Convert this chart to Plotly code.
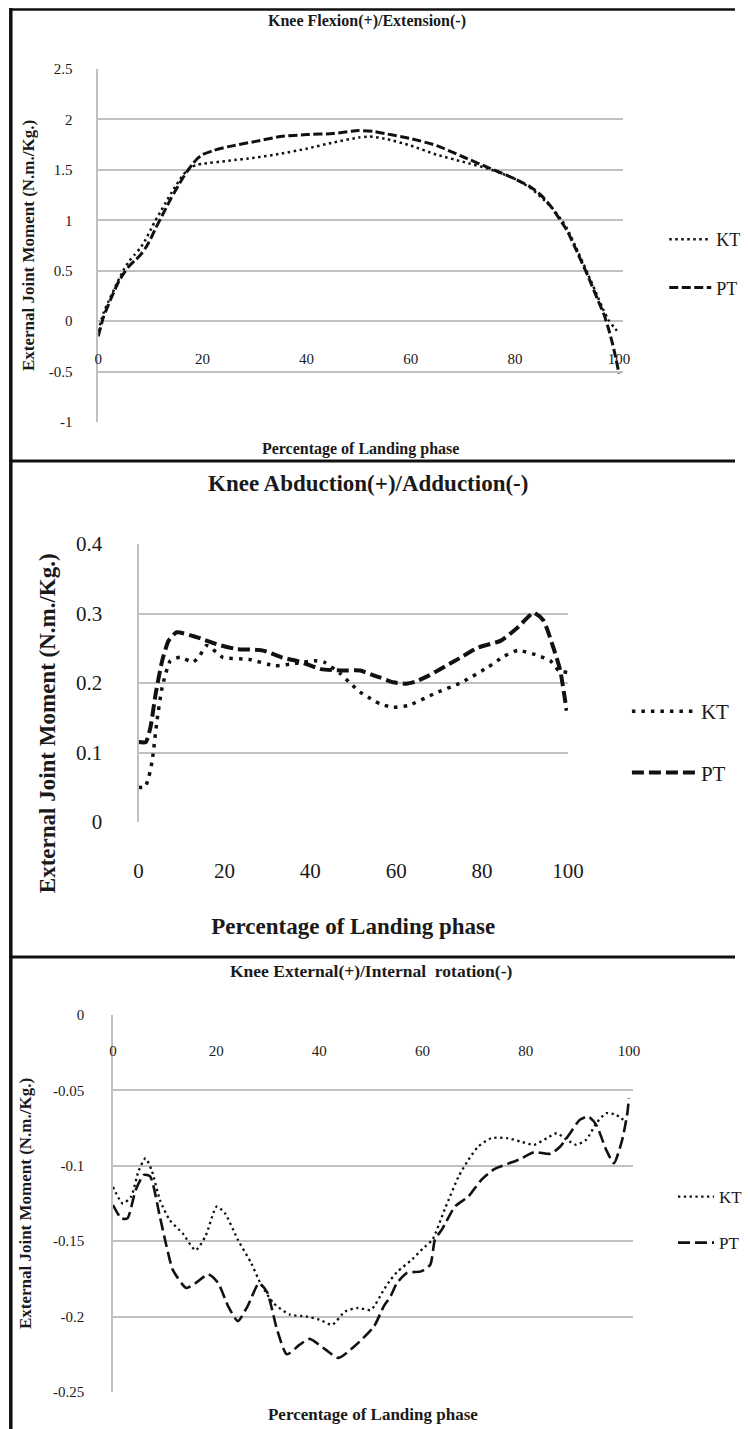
import plotly.graph_objects as go

# ---------------- data ----------------
x_ticks = [0, 20, 40, 60, 80, 100]
x_ticklabels = ["0", "20", "40", "60", "80", "100"]

# Panel 1: Knee Flexion(+)/Extension(-)
flex_kt_x = [0, 1, 2, 3, 4, 5, 6, 7, 8, 9, 10, 11, 12, 13, 14, 15, 16, 17, 18, 19, 20,
             25, 30, 35, 40, 45, 50, 52, 55, 60, 65, 70, 75, 80, 83, 85, 87, 89, 90,
             92, 94, 96, 97, 98, 99, 100]
flex_kt = [-0.10, 0.08, 0.20, 0.31, 0.42, 0.52, 0.60, 0.66, 0.72, 0.80, 0.90, 1.00, 1.09,
           1.18, 1.27, 1.35, 1.43, 1.49, 1.53, 1.55, 1.56,
           1.59, 1.62, 1.66, 1.71, 1.77, 1.82, 1.83, 1.81, 1.74, 1.65, 1.58, 1.51, 1.41,
           1.32, 1.23, 1.13, 1.00, 0.92, 0.70, 0.47, 0.23, 0.11, 0.01, -0.06, -0.12]
flex_pt_x = [0, 1, 2, 3, 4, 5, 6, 7, 8, 9, 10, 11, 12, 13, 14, 15, 16, 17, 18, 19, 20,
             22, 25, 30, 35, 40, 45, 50, 53, 55, 60, 65, 70, 75, 80, 83, 85, 87, 89, 90,
             92, 94, 96, 97, 98, 99, 100]
flex_pt = [-0.15, 0.04, 0.17, 0.29, 0.40, 0.48, 0.55, 0.60, 0.65, 0.72, 0.81, 0.92, 1.02,
           1.12, 1.22, 1.31, 1.40, 1.48, 1.55, 1.61, 1.65,
           1.69, 1.73, 1.78, 1.83, 1.85, 1.86, 1.89, 1.88, 1.86, 1.81, 1.74, 1.63, 1.52,
           1.41, 1.33, 1.25, 1.13, 0.98, 0.90, 0.68, 0.45, 0.20, 0.08, -0.08, -0.28, -0.52]
flex_yticks = [-1, -0.5, 0, 0.5, 1, 1.5, 2, 2.5]
flex_yticklabels = ["-1", "-0.5", "0", "0.5", "1", "1.5", "2", "2.5"]

# Panel 2: Knee Abduction(+)/Adduction(-)
abd_kt_x = [0, 1.5, 2.4, 3.2, 4.3, 5.5, 7.4, 9.7, 12.7, 14.2, 15.8, 17, 19.6, 25.7, 31.8,
            36.4, 41, 43.2, 47.1, 49.4, 51.6, 54.7, 56.2, 59.3, 63, 69, 75.3, 81.4, 85,
            88.3, 92.8, 95.9, 97.8, 100]
abd_kt = [0.050, 0.050, 0.065, 0.089, 0.146, 0.194, 0.232, 0.237, 0.230, 0.239, 0.254,
          0.250, 0.237, 0.234, 0.225, 0.228, 0.232, 0.230, 0.213, 0.199, 0.187, 0.175,
          0.170, 0.165, 0.168, 0.185, 0.201, 0.223, 0.238, 0.247, 0.240, 0.232, 0.218, 0.215]
abd_pt_x = [0, 1.7, 2.8, 4, 5.5, 7, 8.9, 13.5, 18.1, 22.7, 28.8, 33.3, 37.9, 42.5, 47.1,
            51.6, 54.7, 56.2, 59.3, 62.3, 64.5, 67.7, 73.7, 79.1, 84.4, 88.3, 92, 94.3,
            96.6, 98.2, 99.7]
abd_pt = [0.115, 0.115, 0.137, 0.185, 0.232, 0.261, 0.273, 0.266, 0.256, 0.249, 0.247,
          0.237, 0.230, 0.220, 0.218, 0.218, 0.211, 0.208, 0.201, 0.199, 0.202, 0.211,
          0.232, 0.251, 0.261, 0.280, 0.301, 0.290, 0.251, 0.218, 0.160]
abd_yticks = [0, 0.1, 0.2, 0.3, 0.4]
abd_yticklabels = ["0", "0.1", "0.2", "0.3", "0.4"]

# Panel 3: Knee External(+)/Internal rotation(-)
rot_kt_x = [0, 1.9, 3.5, 5.0, 6.3, 7.5, 9.1, 11, 13.5, 16, 17.9, 20.1, 21.7, 24.2, 26.8,
            28.6, 31.1, 34.3, 37.4, 40, 42.5, 45, 47.5, 50, 52.5, 53.8, 55.2, 58, 60,
            61.9, 64.4, 67, 68.9, 70.8, 73.3, 76.5, 79, 81.6, 84.1, 86, 88, 89.8, 91.7,
            93.7, 95.6, 97.5, 99.4]
rot_kt = [-0.114, -0.125, -0.1205, -0.103, -0.095, -0.103, -0.1227, -0.136, -0.1448,
          -0.156, -0.147, -0.127, -0.1315, -0.149, -0.1646, -0.178, -0.191, -0.1987,
          -0.1999, -0.202, -0.2054, -0.1966, -0.1943, -0.1955, -0.1822, -0.1756, -0.170,
          -0.162, -0.155, -0.149, -0.128, -0.107, -0.096, -0.0872, -0.0817, -0.0817,
          -0.0839, -0.0861, -0.0817, -0.0784, -0.0828, -0.0861, -0.0828, -0.0717,
          -0.0651, -0.0662, -0.0707]
rot_pt_x = [0, 1.6, 2.8, 4.4, 6, 7.2, 9.1, 10.4, 11.6, 14.2, 16, 18.5, 20.4, 22.3, 24.2,
            26.1, 28.3, 29.9, 31.8, 33.7, 36.2, 38.1, 41.2, 43.7, 46.8, 50.6, 52.5, 53.8,
            55, 57, 59.7, 61.5, 62.4, 63.8, 66.3, 68.9, 71.4, 74, 76.5, 79, 81.6, 84.8,
            86.7, 88.6, 90.5, 92.1, 93.7, 95.6, 97.1, 98.7, 99.7, 100]
rot_pt = [-0.126, -0.1348, -0.1348, -0.116, -0.106, -0.107, -0.134, -0.1536, -0.169,
          -0.181, -0.1778, -0.172, -0.1778, -0.193, -0.203, -0.193, -0.1778, -0.184,
          -0.2087, -0.225, -0.2186, -0.2148, -0.2219, -0.2274, -0.2197, -0.2065, -0.193,
          -0.1866, -0.178, -0.171, -0.170, -0.1656, -0.149, -0.142, -0.127, -0.1203,
          -0.1093, -0.102, -0.0987, -0.0954, -0.091, -0.092, -0.0872, -0.0784, -0.0695,
          -0.0673, -0.073, -0.0894, -0.0982, -0.0828, -0.0651, -0.0552]
rot_yticks = [-0.25, -0.2, -0.15, -0.1, -0.05, 0]
rot_yticklabels = ["-0.25", "-0.2", "-0.15", "-0.1", "-0.05", "0"]

titles = ["Knee Flexion(+)/Extension(-)", "Knee Abduction(+)/Adduction(-)",
          "Knee External(+)/Internal  rotation(-)"]
x_title = "Percentage of Landing phase"
y_title = "External Joint Moment (N.m./Kg.)"

# ---------------- styling helpers ----------------
W, H = 748, 1429
FONT = "Liberation Serif"
INK = "#1a1a1a"
GRID = "#c0c0c0"


def fx(p):
    return p / W


def fy(p):
    return 1 - p / H


fig = go.Figure()


def add_pair(xk, yk, xp, yp, ax, leg, kt_w, kt_dash, pt_w, pt_dash, smooth):
    fig.add_trace(go.Scatter(
        x=xk, y=yk, name="KT", mode="lines", xaxis="x" + ax, yaxis="y" + ax,
        legend=leg, legendgroup=leg + "kt",
        line=dict(color="#111111", width=kt_w, dash=kt_dash, shape="spline", smoothing=smooth)))
    fig.add_trace(go.Scatter(
        x=xp, y=yp, name="PT", mode="lines", xaxis="x" + ax, yaxis="y" + ax,
        legend=leg, legendgroup=leg + "pt",
        line=dict(color="#111111", width=pt_w, dash=pt_dash, shape="spline", smoothing=smooth)))


add_pair(flex_kt_x, flex_kt, flex_pt_x, flex_pt, "", "legend", 2.5, "2.5px,3.5px", 3, "9px,3.5px", 0.6)
add_pair(abd_kt_x, abd_kt, abd_pt_x, abd_pt, "2", "legend2", 3.5, "3.5px,6px", 4, "12px,5px", 0.5)
add_pair(rot_kt_x, rot_kt, rot_pt_x, rot_pt, "3", "legend3", 2.3, "2.3px,3.5px", 2.6, "12px,5px", 0.6)


def xaxis(domain, rng, fsize, tfsize, standoff, lab_standoff, **kw):
    d = dict(domain=domain, range=rng, tickvals=x_ticks, ticktext=x_ticklabels,
             showgrid=False, zeroline=False, showline=False, ticks="",
             ticklabelstandoff=lab_standoff, automargin=False, fixedrange=True,
             tickfont=dict(family=FONT, size=fsize, color=INK),
             title=dict(text=x_title, standoff=standoff,
                        font=dict(family=FONT, size=tfsize, color=INK, weight="bold")))
    d.update(kw)
    return d


def yaxis(domain, rng, vals, labels, fsize, tfsize, standoff, lab_standoff, anchor, gw,
          title=True):
    return dict(domain=domain, range=rng, tickvals=vals, ticktext=labels, anchor=anchor,
                showgrid=True, gridcolor=GRID, gridwidth=gw, zeroline=False,
                showline=True, linecolor=GRID, linewidth=gw, ticks="",
                ticklabelstandoff=lab_standoff, automargin=False, fixedrange=True,
                tickfont=dict(family=FONT, size=fsize, color=INK),
                title=dict(text=y_title if title else "", standoff=standoff,
                           font=dict(family=FONT, size=tfsize, color=INK, weight="bold")))


layout = dict(
    width=W, height=H, margin=dict(l=0, r=0, t=0, b=0),
    paper_bgcolor="white", plot_bgcolor="white", showlegend=True,
    xaxis=xaxis([fx(100), fx(634)], [0, 100.75], 15, 16, 76, 0,
                anchor="free", position=fy(348)),
    yaxis=yaxis([fy(422), fy(69)], [-1, 2.5], flex_yticks, flex_yticklabels,
                15, 17, 10, 21, "x", 1.6),
    xaxis2=xaxis([fx(141), fx(578)], [0, 100], 21, 23, 35, 34, anchor="y2"),
    yaxis2=yaxis([fy(822), fy(544)], [0, 0.4], abd_yticks, abd_yticklabels,
                 21, 23, 15, 30, "x2", 2, title=False),
    xaxis3=xaxis([fx(115), fx(644)], [0, 100.76], 15, 17, 350, 0,
                 anchor="free", position=fy(1040)),
    yaxis3=yaxis([fy(1392), fy(1015)], [-0.25, 0], rot_yticks, rot_yticklabels,
                 15, 17, 17, 24, "x3", 1.6),
)

for name, (lx, ly, fs, gap, iw) in {"legend": (676, 221, 18, 22, 42),
                                     "legend2": (638, 691, 21, 31, 64),
                                     "legend3": (685, 1179, 17, 21, 36)}.items():
    layout[name] = dict(x=fx(lx), y=fy(ly), xanchor="left", yanchor="top",
                        bgcolor="rgba(0,0,0,0)", tracegroupgap=gap, itemwidth=iw,
                        font=dict(family=FONT, size=fs, color=INK))

fig.update_layout(**layout)

# panel titles
for text, cx, cy, fs in [(titles[0], 373, 21, 16), (titles[1], 374, 483, 23),
                         (titles[2], 378, 971, 17.5)]:
    fig.add_annotation(text=text, x=fx(cx), y=fy(cy), xref="paper", yref="paper",
                       showarrow=False, xanchor="center", yanchor="middle",
                       font=dict(family=FONT, size=fs, color=INK, weight="bold"))

# y-axis title of the middle panel (sits lower than the axis centre in the original)
fig.add_annotation(text=y_title, x=fx(48), y=fy(723), xref="paper", yref="paper",
                   showarrow=False, textangle=-90, xanchor="center", yanchor="middle",
                   font=dict(family=FONT, size=23, color=INK, weight="bold"))

# panel frames
frame = dict(color="#111111")
fig.add_shape(type="line", xref="paper", yref="paper", x0=fx(11), x1=fx(11),
              y0=0, y1=fy(8), line=dict(width=3.5, **frame))
for yy, w in [(9.5, 2.5), (461, 3), (957, 3)]:
    fig.add_shape(type="line", xref="paper", yref="paper", x0=fx(9.5), x1=1,
                  y0=fy(yy), y1=fy(yy), line=dict(width=w, **frame))

fig.write_html("out.html", config={"displayModeBar": False},
               post_script="document.body.style.margin='0';document.body.style.overflow='hidden';")
